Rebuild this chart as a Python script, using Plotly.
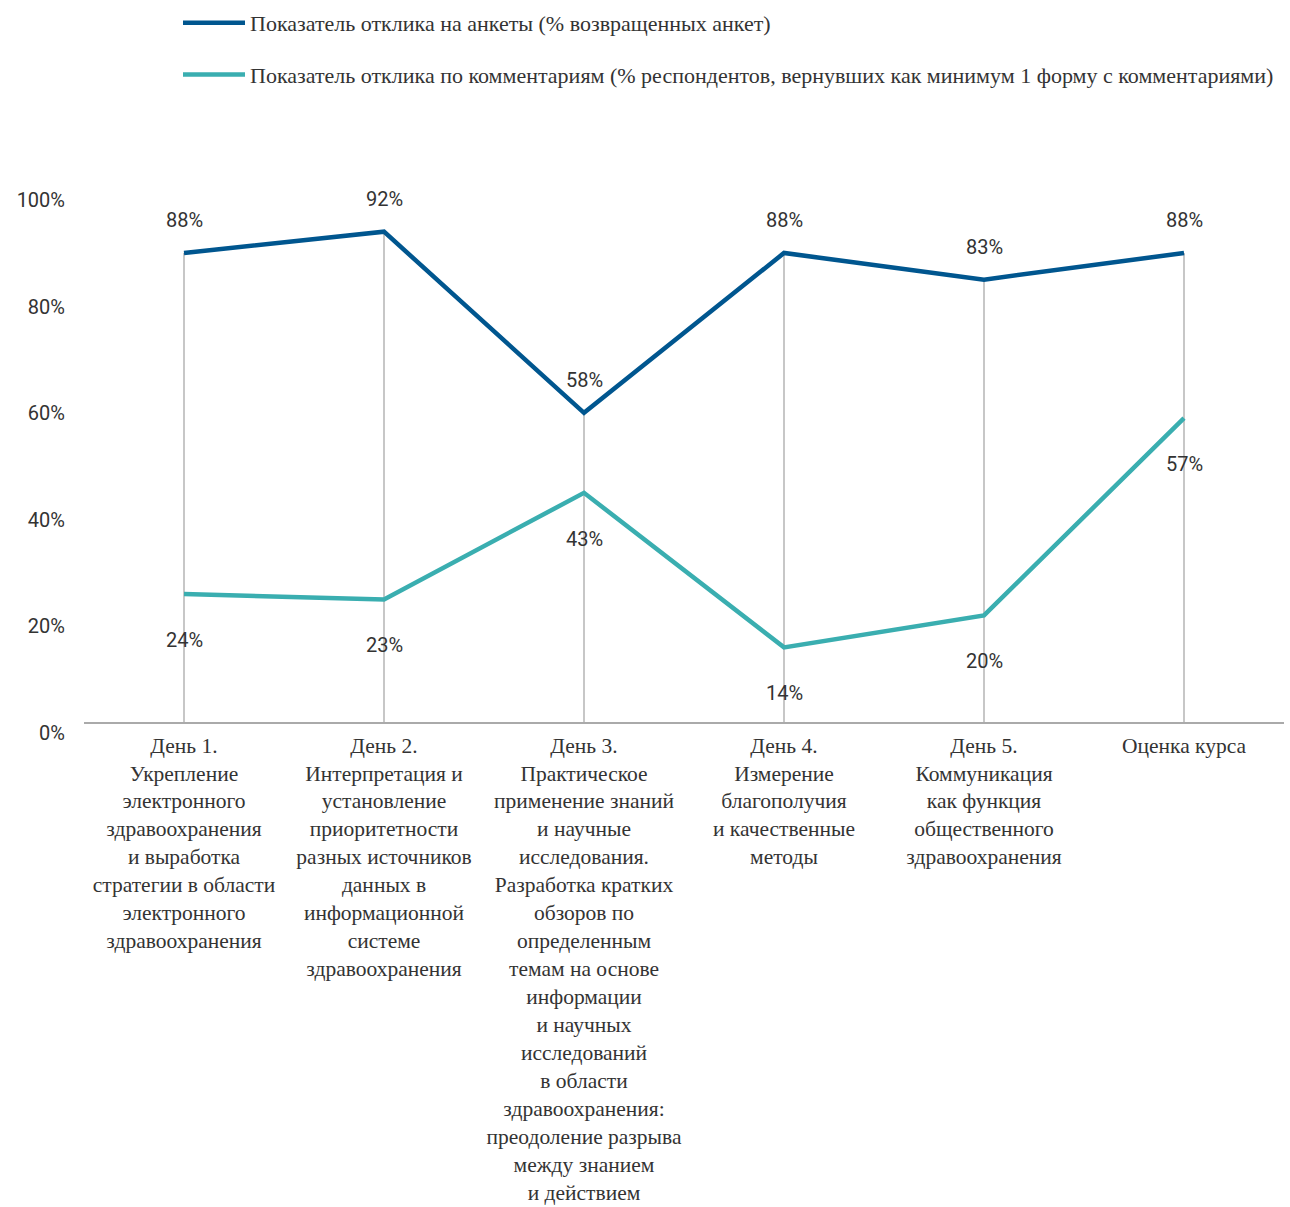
import plotly.graph_objects as go

# Course sessions (x-axis categories)
categories = ["d1", "d2", "d3", "d4", "d5", "eval"]
category_labels = [
    "День 1.<br>Укрепление<br>электронного<br>здравоохранения<br>и выработка<br>стратегии в области<br>электронного<br>здравоохранения",
    "День 2.<br>Интерпретация и<br>установление<br>приоритетности<br>разных источников<br>данных в<br>информационной<br>системе<br>здравоохранения",
    "День 3.<br>Практическое<br>применение знаний<br>и научные<br>исследования.<br>Разработка кратких<br>обзоров по<br>определенным<br>темам на основе<br>информации<br>и научных<br>исследований<br>в области<br>здравоохранения:<br>преодоление разрыва<br>между знанием<br>и действием",
    "День 4.<br>Измерение<br>благополучия<br>и качественные<br>методы",
    "День 5.<br>Коммуникация<br>как функция<br>общественного<br>здравоохранения",
    "Оценка курса",
]

# Response rates, %
survey_response = [88, 92, 58, 88, 83, 88]
comment_response = [24, 23, 43, 14, 20, 57]

series_names = [
    "Показатель отклика на анкеты (% возвращенных анкет)",
    "Показатель отклика по комментариям (% респондентов, вернувших как минимум 1 форму с комментариями)",
]

y_ticks = [0, 20, 40, 60, 80, 100]
y_tick_labels = ["0%", "20%", "40%", "60%", "80%", "100%"]

BLUE = "#00568f"
TEAL = "#3aaeb0"
GREY_LINE = "#b4b4b4"
NUM_FONT = "Roboto"
SERIF = "Liberation Serif"
TEXT = "#333333"

fig = go.Figure()

# Vertical drop lines from the axis up to the higher of the two series
drop_x, drop_y = [], []
for c, a, b in zip(categories, survey_response, comment_response):
    drop_x += [c, c, None]
    drop_y += [0, max(a, b), None]
fig.add_trace(go.Scatter(
    x=drop_x, y=drop_y, mode="lines",
    line=dict(color=GREY_LINE, width=1.5),
    showlegend=False, hoverinfo="skip",
))

fig.add_trace(go.Scatter(
    x=categories, y=survey_response, mode="lines", name=series_names[0],
    line=dict(color=BLUE, width=4.5), legendgroup="a",
))
fig.add_trace(go.Scatter(
    x=categories, y=comment_response, mode="lines", name=series_names[1],
    line=dict(color=TEAL, width=4.5), legendgroup="b",
))

annotations = []
for c, v in zip(categories, survey_response):
    annotations.append(dict(
        x=c, y=v, text=f"{v}%", showarrow=False, yshift=33,
        font=dict(family=NUM_FONT, size=20, color=TEXT),
    ))
for c, v in zip(categories, comment_response):
    annotations.append(dict(
        x=c, y=v, text=f"{v}%", showarrow=False, yshift=-46,
        font=dict(family=NUM_FONT, size=20, color=TEXT),
    ))

fig.update_layout(
    width=1290, height=1207,
    margin=dict(l=84, r=6, t=189, b=485, autoexpand=False),
    paper_bgcolor="white", plot_bgcolor="white",
    showlegend=True,
    legend=dict(
        xref="paper", yref="container",
        x=(178 - 84) / 1200, y=1 - 2 / 1207,
        xanchor="left", yanchor="top",
        orientation="v",
        font=dict(family=SERIF, size=22, color=TEXT),
        tracegroupgap=20,
        itemwidth=62,
        bgcolor="rgba(0,0,0,0)",
    ),
    annotations=annotations,
    xaxis=dict(
        type="category",
        range=[-0.5, 5.5],
        tickvals=categories, ticktext=category_labels,
        showgrid=False, zeroline=False,
        showline=True, linecolor="#aaaaaa", linewidth=1.5,
        ticks="", ticklabelstandoff=3, tickangle=0, automargin=False,
        tickfont=dict(family=SERIF, size=21.5, color=TEXT),
    ),
    yaxis=dict(
        range=[0, 100],
        tickvals=y_ticks, ticktext=y_tick_labels,
        showgrid=False, zeroline=False, showline=False, automargin=False,
        ticks="", ticklabelstandoff=18, ticklabelshift=11,
        tickfont=dict(family=NUM_FONT, size=20, color=TEXT),
    ),
)

fig.write_html("out.html")
